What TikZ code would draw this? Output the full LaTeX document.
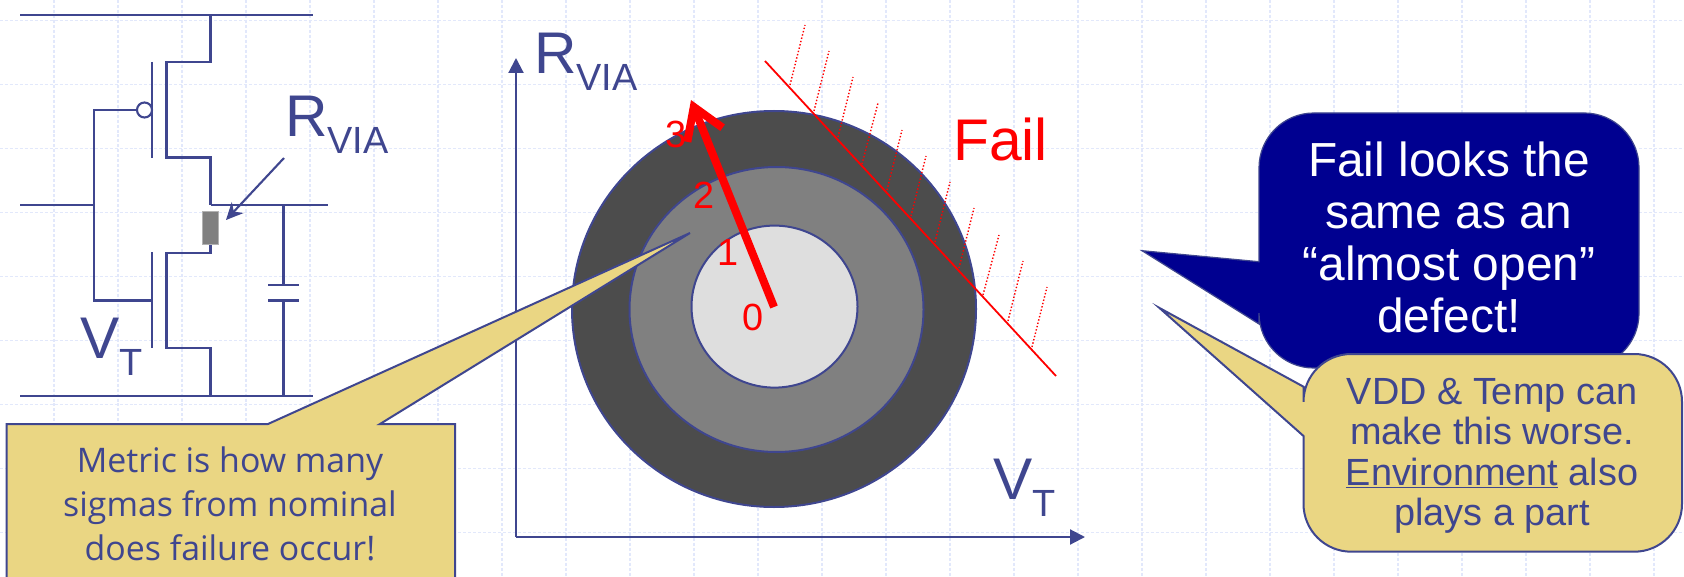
\documentclass[tikz,border=0pt]{standalone}
\usepackage{fontspec}
\setmainfont{Liberation Sans}
\newfontfamily\notefont{Open Sans}
\usetikzlibrary{arrows.meta}
\definecolor{slidenavy}{HTML}{3F468F}
\definecolor{slidegold}{HTML}{EAD683}
\definecolor{slideblue}{HTML}{000090}
\definecolor{slidegrid}{HTML}{E2E8FB}
\newcommand{\subtext}[1]{{\fontsize{38}{38}\selectfont\raisebox{-17bp}{#1}}}
\begin{document}
\begin{tikzpicture}[
    x=1bp, y=-1bp,
    wire/.style={draw=slidenavy, line width=2.1bp},
    rail/.style={draw=slidenavy, line width=2.6bp},
    biglabel/.style={anchor=base west, inner sep=0pt, text=slidenavy, font=\fontsize{59}{59}\selectfont},
    digit/.style={inner sep=0pt, text=red, font=\fontsize{38}{38}\selectfont},
    hatch/.style={draw=red, dotted, line width=1.4bp},
    ring/.style={draw=slidenavy, line width=2bp},
    gridline/.style={slidegrid, line width=1.3bp, densely dashed},
    note/.style={draw=slidenavy, fill=slidegold, line width=2bp, line join=miter}
]
\useasboundingbox (0,0) rectangle (1684,577);
\fill[white] (0,0) rectangle (1684,577);
\foreach \gx in {54,118,...,1684} \draw[gridline] (\gx,0) -- (\gx,577);
\foreach \gy in {20.7,84.7,...,577} \draw[gridline] (0,\gy) -- (1684,\gy);

% inverter
\coordinate (vddl) at (20,15);
\coordinate (vddr) at (313,15);
\coordinate (vddtap) at (210.5,15);
\coordinate (gndl) at (20,396);
\coordinate (gndr) at (313,396);
\coordinate (gndtap) at (210.5,396);
\coordinate (inl) at (20,205);
\coordinate (ingate) at (94,205);
\coordinate (outtap) at (210.5,205);
\coordinate (outr) at (327.5,205);
\draw[rail] (vddl) -- (vddr);
\draw[rail] (gndl) -- (gndr);
\draw[wire] (inl) -- (ingate);
\draw[wire] (outtap) -- (outr);
\draw[wire] (vddtap) -- (210.5,62) -- (166.5,62) -- (166.5,157.5) -- (210.5,157.5) -- (outtap);
\draw[wire] (210.5,245) -- (210.5,253) -- (166.5,253) -- (166.5,348) -- (210.5,348) -- (gndtap);
\draw[wire] (152,62) -- (152,158);
\draw[wire] (152,252) -- (152,348);
\node[circle, draw=slidenavy, fill=white, line width=2.1bp, minimum size=15bp, inner sep=0pt] (bubble) at (144.5,110) {};
\draw[wire] (bubble.west) -- (94,110) -- (94,300.5) -- (152,300.5);
\node[draw=gray!60, fill=gray, line width=1bp, minimum width=16bp, minimum height=33bp, inner sep=0pt] (rvia) at (210.5,228) {};
\coordinate (capa) at (283.5,205);
\coordinate (capb) at (283.5,285);
\coordinate (capc) at (283.5,300.5);
\coordinate (capd) at (283.5,396);
\draw[wire] (capa) -- (capb);
\draw[wire] (capc) -- (capd);
\draw[wire] (268,285) -- (299,285);
\draw[wire] (268,300.5) -- (299,300.5);
\node[biglabel] (rlabel) at (285,137) {R\subtext{VIA}};
\node[biglabel] (vlabel) at (80,358) {V\subtext{T}};
\coordinate (rarrow) at (284,158);
\coordinate (rtip) at (226,220);
\draw[wire, -{Stealth[length=17bp,width=16bp]}] (rarrow) -- (rtip);

% axes
\coordinate (origin) at (516,537);
\coordinate (ytip) at (516,58);
\coordinate (xtip) at (1085,537);
\draw[wire, -{Triangle[length=15bp,width=15bp]}] (origin) -- (ytip);
\draw[wire, -{Triangle[length=15bp,width=15bp]}] (origin) -- (xtip);
\node[biglabel] (ylabel) at (534,74) {R\subtext{VIA}};
\node[biglabel] (xlabel) at (993,499) {V\subtext{T}};

% sigma rings
\coordinate (nominal) at (774,307);
\draw[ring, fill=black!70] (774,309) ellipse (202 and 198);
\draw[ring, fill=black!50] (776.5,309.5) ellipse (147 and 142.5);
\draw[ring, fill=black!13] (774.5,306.6) ellipse (83 and 81);

% fail line
\coordinate (faila) at (765,61);
\coordinate (failb) at (1056,376);
\draw[red, line width=1.8bp] (faila) -- (failb);
\draw[hatch] (790,85) -- (805,25);
\draw[hatch] (814,111) -- (829,51);
\draw[hatch] (838,137) -- (853,77);
\draw[hatch] (862,164) -- (878,103);
\draw[hatch] (887,190) -- (902,130);
\draw[hatch] (911,216) -- (926,156);
\draw[hatch] (935,242) -- (950,182);
\draw[hatch] (959,268) -- (974,208);
\draw[hatch] (983,295) -- (999,235);
\draw[hatch] (1008,321) -- (1023,261);
\draw[hatch] (1032,347) -- (1047,287);
\node[anchor=base west, inner sep=0pt, text=red, font=\fontsize{59}{59}\selectfont] (faillabel) at (953,161) {Fail};

% sigma arrow
\coordinate (sigmatip) at (691,100);
\draw[red, line width=8bp, -{Straight Barb[length=30bp,width=38bp,line width=8bp]}] (nominal) -- (sigmatip);
\node[digit] (zero) at (753,317) {0};
\node[digit] (one) at (728,252) {1};
\node[digit] (two) at (704,195) {2};
\node[digit] (three) at (676,134) {3};

% callouts
\draw[note] (6.7,590) -- (6.7,424) -- (268,424) -- (690,233) -- (380,424) -- (455,424) -- (455,590);
\node[text=slidenavy, align=center, inner sep=0pt, font=\notefont\fontsize{34}{44}\selectfont] (metric) at (230,504) {Metric is how many\\sigmas from nominal\\does failure occur!};
\draw[draw=slidenavy, fill=slideblue, line width=1.2bp] (1142,250.7) -- (1259,261.7) [rounded corners=55] -- (1259,113) -- (1639,113) -- (1639,368) -- (1259,368) [sharp corners] -- (1259,324) -- cycle;
\node[text=white, align=center, inner sep=0pt, font=\fontsize{48}{52}\selectfont] (failnote) at (1449,237.5) {Fail looks the\\same as an\\“almost open”\\defect!};
\draw[note] (1159.5,308) -- (1303.5,386.7) [rounded corners=48] -- (1303.5,354) -- (1682,354) -- (1682,551.7) -- (1303.5,551.7) [sharp corners] -- (1303.5,436) -- cycle;
\node[text=slidenavy, align=center, inner sep=0pt, font=\fontsize{38}{40.7}\selectfont] (envnote) at (1492,456) {VDD \& Temp can\\make this worse.\\\underline{Environment} also\\plays a part};
\end{tikzpicture}
\end{document}
